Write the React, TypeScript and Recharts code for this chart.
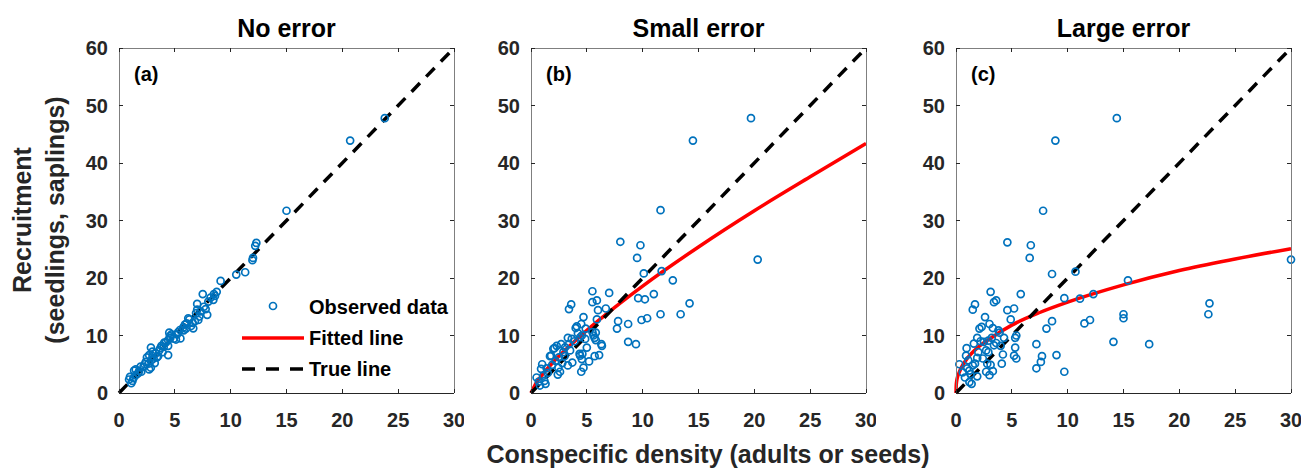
import React from 'react';
import { ComposedChart, Scatter, Line, XAxis, YAxis } from 'recharts';

// ---------- data ----------
const xTicks = [0, 5, 10, 15, 20, 25, 30];
const yTicks = [0, 10, 20, 30, 40, 50, 60];
const panelTitles = ['No error', 'Small error', 'Large error'];
const panelTags = ['(a)', '(b)', '(c)'];
const legendLabels = ['Observed data', 'Fitted line', 'True line'];
const xLabel = 'Conspecific density (adults or seeds)';
const yLabel1 = 'Recruitment';
const yLabel2 = '(seedlings, saplings)';

const trueLine: [number, number][] = [[0, 0], [30, 60]];

const obsA: [number, number][] = [
  [23.8, 47.8], [20.7, 43.9], [15.0, 31.7], [12.3, 26.1], [12.2, 25.6], [12.0, 23.5], [11.95, 23.1],
  [11.3, 21.0], [10.5, 20.6], [9.1, 19.5], [8.75, 17.6], [8.5, 17.2], [8.45, 16.2], [7.5, 17.2],
  [7.0, 15.5], [7.0, 14.5], [7.76, 14.6], [7.9, 13.6], [7.1, 12.7], [6.65, 11.25], [6.45, 11.65],
  [6.06, 12.1], [5.76, 11.4], [6.3, 12.8], [6.2, 13.0], [5.46, 10.96], [4.5, 10.5], [4.55, 9.9],
  [4.9, 9.45], [5.5, 9.5], [4.4, 9.2], [4.05, 8.75], [3.8, 8.2], [4.4, 8.2], [4.4, 6.6], [3.6, 7.4],
  [3.3, 6.9], [2.86, 7.9], [3.0, 7.2], [2.7, 6.6], [3.1, 6.0], [3.2, 5.2], [2.65, 5.1], [2.85, 4.4],
  [2.7, 4.1], [1.94, 4.6], [1.5, 4.1], [1.35, 3.9], [0.98, 2.8], [0.9, 2.35], [1.1, 1.7], [1.2, 2.1],
  [1.5, 3.1], [2.0, 3.7], [2.2, 4.6], [3.5, 6.4], [3.7, 7.8], [4.0, 8.0], [4.6, 9.6], [5.1, 9.3],
  [5.2, 10.2], [5.9, 11.9], [6.6, 12.2], [6.9, 13.9], [7.3, 14.2], [8.0, 15.9], [8.2, 16.6], [2.4, 5.4],
  [2.5, 6.2], [3.4, 6.2], [3.9, 7.1], [1.7, 3.4], [1.3, 2.6], [2.9, 5.7], [4.2, 8.8], [4.7, 10.2],
  [5.3, 10.6], [5.8, 10.9], [6.0, 11.2], [6.8, 12.5], [7.6, 15.0], [7.2, 13.3], [8.6, 16.9], [3.0, 6.4],
  [2.3, 5.0], [1.8, 3.8],
];

const obsB: [number, number][] = [
  [19.7, 47.8], [14.5, 43.9], [11.6, 31.8], [20.3, 23.2], [8.0, 26.3], [9.8, 25.7], [9.5, 23.5],
  [10.1, 20.8], [11.7, 21.2], [12.7, 19.6], [11.0, 17.2], [9.6, 16.5], [10.2, 16.3], [14.2, 15.6],
  [13.4, 13.7], [11.6, 13.7], [10.4, 13.0], [9.9, 12.7], [7.8, 12.5], [7.7, 11.2], [8.7, 12.0],
  [8.7, 8.9], [9.4, 8.5], [7.0, 17.4], [6.7, 14.7], [6.0, 14.4], [5.5, 17.7], [5.5, 15.8], [5.9, 16.1],
  [5.9, 12.8], [4.7, 13.2], [3.4, 14.6], [3.6, 15.4], [4.0, 11.3], [4.1, 11.6], [4.5, 12.0], [4.9, 11.2],
  [5.8, 10.5], [5.7, 9.6], [6.3, 8.5], [6.1, 6.6], [5.7, 6.4], [5.2, 5.5], [5.0, 7.9], [4.6, 6.8],
  [4.4, 6.5], [4.7, 4.4], [4.5, 3.7], [3.7, 5.3], [3.3, 4.8], [3.3, 9.6], [2.7, 8.5], [2.1, 7.8],
  [1.7, 6.4], [1.0, 5.0], [2.4, 3.2], [2.6, 3.7], [1.3, 1.6], [0.5, 2.7], [0.9, 4.2], [1.2, 2.1],
  [1.8, 6.5], [2.0, 7.7], [2.3, 8.2], [2.5, 6.2], [2.45, 4.4], [2.9, 7.1], [3.05, 7.95], [3.65, 9.4],
  [3.4, 8.5], [4.4, 9.7], [4.85, 9.4], [4.55, 10.0], [5.6, 10.0], [5.8, 9.2], [5.5, 10.6], [6.35, 8.2],
  [4.35, 6.8], [4.55, 5.9], [1.5, 3.5], [1.1, 3.0], [0.7, 2.0], [1.9, 4.9], [2.2, 5.6], [3.0, 6.4],
  [3.9, 9.0], [4.2, 10.4], [2.8, 5.2], [1.4, 4.3], [3.5, 7.4], [0.8, 1.3],
];

const obsC: [number, number][] = [
  [14.4, 47.8], [8.9, 43.9], [7.8, 31.7], [30, 23.2], [4.6, 26.2], [6.7, 25.7], [6.6, 23.5], [8.6, 20.7],
  [10.7, 21.1], [15.4, 19.6], [5.8, 17.2], [3.1, 17.6], [3.4, 15.8], [3.6, 16.1], [9.7, 16.5], [11.1, 16.4],
  [12.3, 17.2], [22.7, 15.6], [22.6, 13.7], [15.0, 13.7], [15.0, 13.0], [12.0, 12.7], [11.5, 12.1],
  [8.6, 12.5], [8.1, 11.2], [14.1, 8.9], [17.3, 8.5], [7.2, 8.5], [9.0, 6.6], [7.7, 6.4], [7.6, 5.4],
  [7.2, 4.3], [9.7, 3.7], [1.5, 14.5], [1.7, 15.4], [4.6, 14.4], [5.2, 14.7], [4.9, 12.8], [2.6, 13.2],
  [3.0, 12.0], [3.3, 11.3], [2.1, 11.2], [2.3, 11.5], [3.9, 10.5], [5.4, 10.0], [5.3, 9.6], [4.3, 9.6],
  [1.9, 9.6], [3.2, 9.6], [2.5, 8.9], [3.6, 8.7], [3.4, 8.3], [1.6, 8.6], [2.7, 7.4], [2.9, 7.1],
  [5.3, 7.9], [4.2, 6.7], [5.2, 6.5], [5.4, 6.0], [4.1, 5.1], [2.8, 5.1], [3.1, 4.9], [3.3, 3.8],
  [2.7, 3.7], [3.0, 3.1], [1.9, 2.9], [0.95, 7.8], [0.9, 6.5], [0.3, 5.0], [1.9, 6.1], [1.7, 5.1],
  [1.2, 3.9], [1.4, 1.6], [1.2, 1.9], [0.8, 2.7], [1.3, 3.3], [1.5, 4.8], [1.1, 5.7], [2.0, 7.1],
  [2.2, 9.0], [3.8, 10.9], [2.4, 6.0], [1.0, 4.3], [0.6, 3.6], [2.9, 9.1], [4.0, 8.2],
];

const fitB: [number, number][] = [
  [0, 0], [0.5, 1.85], [1, 3.15], [2, 5.4], [3, 7.35], [5, 10.9], [7.5, 14.9], [10, 18.6],
  [15, 25.4], [20, 31.7], [25, 37.6], [30, 43.4],
];

const fitC: [number, number][] = [
  [0, 0], [0.02, 1.3], [0.05, 1.9], [0.1, 2.5], [0.25, 3.4], [0.5, 4.5], [1, 6.0], [2, 8.0], [3, 9.4],
  [5, 11.8], [7.5, 14.0], [10, 15.8], [15, 18.8], [20, 21.3], [25, 23.3], [30, 25.1],
];

// ---------- layout / style ----------
const FONT = '"Liberation Sans", Arial, Helvetica, sans-serif';
const W = 1303;
const H = 469;
const PLOT_LEFTS = [119, 531, 956];
const PLOT_TOP = 48;
const PLOT_W = 335;
const PLOT_H = 345;
const PLOT_BOTTOM = PLOT_TOP + PLOT_H;
const YAXIS_W = 60;
const XAXIS_H = 40;
const BLUE = '#0072BD';
const RED = '#FF0000';
const AXIS_DARK = '#262626';
const AXIS_LIGHT = '#7f7f7f';
const X_MAX = 30;
const Y_MAX = 60;
const TICK_PX = 4;

const toPts = (arr: [number, number][]) => arr.map(([x, y]) => ({ x, y }));

const Circle = (p: any) => (
  <circle cx={p.cx} cy={p.cy} r={3.5} fill="none" stroke={BLUE} strokeWidth={1.7} />
);

const tickStyle = { fill: AXIS_DARK, fontSize: 20, fontWeight: 'bold', fontFamily: FONT };

const plain = { dot: false, activeDot: false, isAnimationActive: false, legendType: 'none' as const };

function Panel({ left, obs, fit }: { left: number; obs: [number, number][]; fit?: [number, number][] }) {
  return (
    <div style={{ position: 'absolute', left: left - YAXIS_W, top: 0 }}>
      <ComposedChart
        width={YAXIS_W + PLOT_W + 10}
        height={H}
        margin={{ top: PLOT_TOP, right: 10, left: 0, bottom: H - PLOT_BOTTOM - XAXIS_H }}
      >
        <XAxis
          dataKey="x"
          type="number"
          domain={[0, X_MAX]}
          ticks={xTicks}
          height={XAXIS_H}
          axisLine={false}
          tickLine={false}
          tickSize={0}
          tickMargin={20}
          tick={tickStyle}
        />
        <YAxis
          dataKey="y"
          type="number"
          domain={[0, Y_MAX]}
          ticks={yTicks}
          width={YAXIS_W}
          axisLine={false}
          tickLine={false}
          tickSize={0}
          tickMargin={11}
          tick={tickStyle}
        />
        <Scatter data={toPts(obs)} dataKey="y" shape={Circle} isAnimationActive={false} />
        {fit && <Line data={toPts(fit)} dataKey="y" type="monotone" stroke={RED} strokeWidth={3.5} {...plain} />}
        <Line
          data={toPts(trueLine)}
          dataKey="y"
          type="linear"
          stroke="#000"
          strokeWidth={3.5}
          strokeDasharray="12 9"
          {...plain}
        />
      </ComposedChart>
    </div>
  );
}

// axes box with inward ticks (MATLAB "box on" style), placed on the panels' plot frames
function Frame({ left }: { left: number }) {
  const r = left + PLOT_W;
  const t = PLOT_TOP;
  const b = PLOT_BOTTOM;
  const xp = (v: number) => left + (v / X_MAX) * PLOT_W;
  const yp = (v: number) => b - (v / Y_MAX) * PLOT_H;
  return (
    <g shapeRendering="crispEdges">
      <line x1={left} y1={t} x2={left} y2={b} stroke={AXIS_LIGHT} />
      <line x1={left} y1={t} x2={r} y2={t} stroke={AXIS_LIGHT} />
      <line x1={r} y1={t} x2={r} y2={b} stroke={AXIS_LIGHT} />
      <line x1={left} y1={b} x2={r} y2={b} stroke={AXIS_DARK} />
      {xTicks.map((v) => (
        <g key={'x' + v}>
          <line x1={xp(v)} y1={b} x2={xp(v)} y2={b - TICK_PX} stroke={AXIS_DARK} />
          <line x1={xp(v)} y1={t} x2={xp(v)} y2={t + TICK_PX} stroke={AXIS_DARK} />
        </g>
      ))}
      {yTicks.map((v) => (
        <g key={'y' + v}>
          <line x1={left} y1={yp(v)} x2={left + TICK_PX} y2={yp(v)} stroke={AXIS_DARK} />
          <line x1={r} y1={yp(v)} x2={r - TICK_PX} y2={yp(v)} stroke={AXIS_DARK} />
        </g>
      ))}
    </g>
  );
}

export default function App() {
  const titleCenters = PLOT_LEFTS.map((l) => l + PLOT_W / 2);
  const lx = 242;
  return (
    <div style={{ position: 'absolute', left: 0, top: 0, width: W, height: H, background: '#fff' }}>
      <Panel left={PLOT_LEFTS[0]} obs={obsA} />
      <Panel left={PLOT_LEFTS[1]} obs={obsB} fit={fitB} />
      <Panel left={PLOT_LEFTS[2]} obs={obsC} fit={fitC} />
      <svg width={W} height={H} style={{ position: 'absolute', left: 0, top: 0, pointerEvents: 'none' }} fontFamily={FONT} fontWeight="bold">
        {PLOT_LEFTS.map((l) => (
          <Frame key={l} left={l} />
        ))}
        {panelTitles.map((t, i) => (
          <text key={t} x={titleCenters[i]} y={37} textAnchor="middle" fontSize={25} fill="#000">
            {t}
          </text>
        ))}
        {panelTags.map((t, i) => (
          <text key={t} x={PLOT_LEFTS[i] + 15} y={81} fontSize={20} fill="#000">
            {t}
          </text>
        ))}
        <text x={708} y={463} textAnchor="middle" fontSize={25} fill={AXIS_DARK}>
          {xLabel}
        </text>
        <text x={31} y={220} textAnchor="middle" fontSize={25} fill={AXIS_DARK} transform="rotate(-90 31 220)">
          {yLabel1}
        </text>
        <text x={64} y={220} textAnchor="middle" fontSize={25} fill={AXIS_DARK} transform="rotate(-90 64 220)">
          {yLabel2}
        </text>
        <rect x={lx - 4} y={290} width={209} height={94} fill="#fff" />
        <circle cx={273} cy={306} r={3.5} fill="none" stroke={BLUE} strokeWidth={1.7} />
        <line x1={lx} y1={338} x2={304} y2={338} stroke={RED} strokeWidth={3.5} />
        <line x1={lx} y1={369} x2={304} y2={369} stroke="#000" strokeWidth={3.5} strokeDasharray="13 11" />
        {legendLabels.map((t, i) => (
          <text key={t} x={309} y={314 + i * 31} fontSize={20} fill="#000">
            {t}
          </text>
        ))}
      </svg>
    </div>
  );
}
